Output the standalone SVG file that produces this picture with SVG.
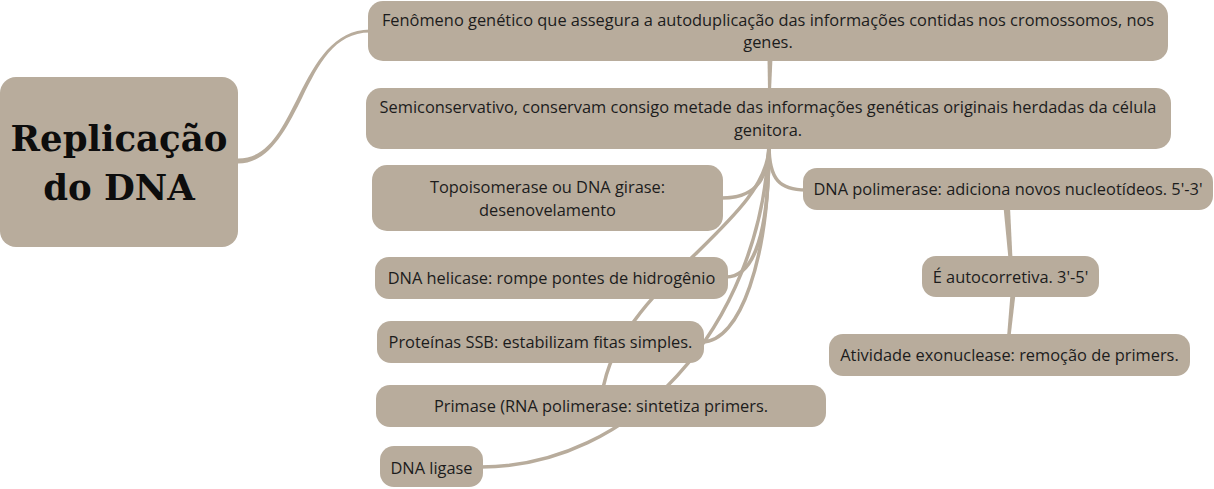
<svg xmlns="http://www.w3.org/2000/svg" width="1214" height="489" viewBox="0 0 1214 489">
<style>
.n{fill:#b8ac9c}
.c{fill:none;stroke:#b8ac9c;stroke-width:3.5;stroke-linecap:round}
.w{fill:#b8ac9c}
.t{font-family:"Open Sans","Noto Sans",sans-serif;font-size:16.4px;fill:#1c1c1c;text-anchor:middle}
.r{font-family:"DejaVu Serif","Liberation Serif",serif;font-weight:bold;font-size:35.5px;fill:#0d0d0d;text-anchor:middle}
</style>
<rect width="1214" height="489" fill="#ffffff"/>
<g id="connectors">
<path class="w" d="M238,163.5 C269,163.5 286.3,129.4 302.5,96.9 C318.8,64.4 334,32.5 370,32.5 L370,29.5 C334,29.5 315.2,62.6 299,95.1 C282.7,127.6 269,158.5 238,158.5 Z"/>
<path class="w" d="M767.5,58 L772.5,58 L771,91 L768,91 Z"/>
<path class="c" d="M769,145 C769,185 750,198 722,198"/>
<path class="c" d="M769,145 C769,180 780,190 806,190"/>
<path class="c" d="M769,145 C769,230 755,277 726,277"/>
<path class="c" d="M769,145 C769,260 740,342 702,342"/>
<path class="c" d="M769,145 C770,225 606,290 601,406"/>
<path class="c" d="M769,145 C760,330 630,467 481,467"/>
<path class="w" d="M1003.5,207 L1010,207 L1012.5,259 L1008.5,259 Z"/>
<path class="w" d="M1010.5,294 L1015.5,294 L1010.5,337 L1007,337 Z"/>
</g>
<g id="root">
<rect class="n" x="0" y="77" width="238" height="170" rx="16"/>
<text class="r" x="119" y="151">Replicação<tspan x="119" dy="49">do DNA</tspan></text>
</g>
<g id="n1">
<rect class="n" x="368" y="1" width="800" height="60" rx="15"/>
<text class="t" x="768" y="25.5">Fenômeno genético que assegura a autoduplicação das informações contidas nos cromossomos, nos</text>
<text class="t" x="768" y="48">genes.</text>
</g>
<g id="n2">
<rect class="n" x="366" y="88" width="805" height="61" rx="15"/>
<text class="t" x="768" y="113">Semiconservativo, conservam consigo metade das informações genéticas originais herdadas da célula</text>
<text class="t" x="768" y="135.5">genitora.</text>
</g>
<g id="topo">
<rect class="n" x="372" y="165" width="351" height="66" rx="15"/>
<text class="t" x="547.5" y="193">Topoisomerase ou DNA girase:</text>
<text class="t" x="547.5" y="215.5">desenovelamento</text>
</g>
<g id="helicase">
<rect class="n" x="375" y="257" width="353" height="42" rx="14"/>
<text class="t" x="551.5" y="284">DNA helicase: rompe pontes de hidrogênio</text>
</g>
<g id="ssb">
<rect class="n" x="377" y="321" width="327" height="42" rx="14"/>
<text class="t" x="540.5" y="348">Proteínas SSB: estabilizam fitas simples.</text>
</g>
<g id="primase">
<rect class="n" x="376" y="385" width="450" height="42" rx="14"/>
<text class="t" x="601" y="412">Primase (RNA polimerase: sintetiza primers.</text>
</g>
<g id="ligase">
<rect class="n" x="380" y="446" width="103" height="41" rx="14"/>
<text class="t" x="431.5" y="473.5">DNA ligase</text>
</g>
<g id="dnapol">
<rect class="n" x="803" y="168" width="410" height="42" rx="14"/>
<text class="t" x="1008" y="195">DNA polimerase: adiciona novos nucleotídeos. 5'-3'</text>
</g>
<g id="auto">
<rect class="n" x="922" y="256" width="177" height="41" rx="14"/>
<text class="t" x="1010.5" y="282.5">É autocorretiva. 3'-5'</text>
</g>
<g id="exo">
<rect class="n" x="829" y="334" width="361" height="42" rx="14"/>
<text class="t" x="1009.5" y="361">Atividade exonuclease: remoção de primers.</text>
</g>
</svg>
